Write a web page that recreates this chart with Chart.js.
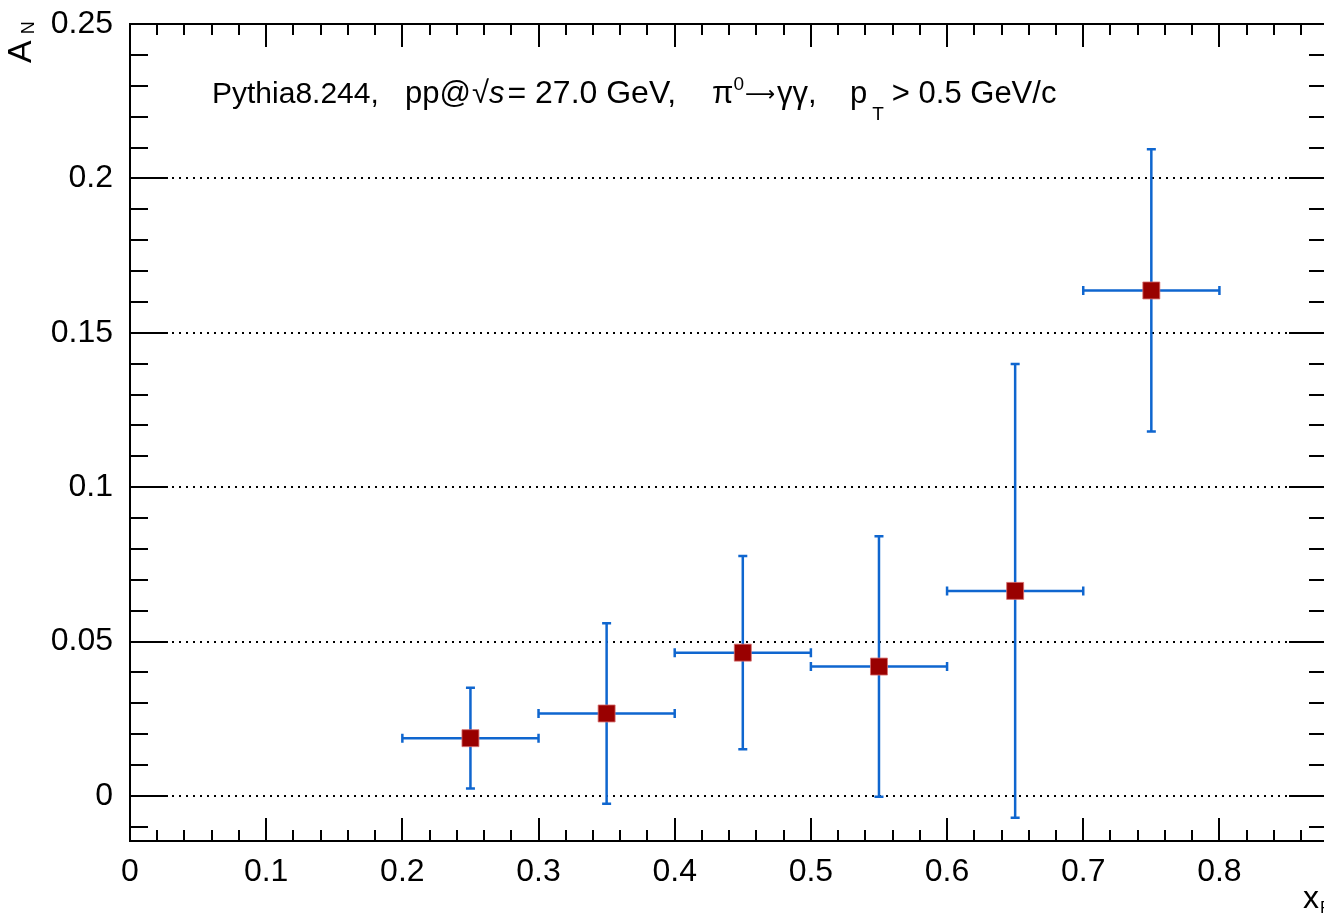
<!DOCTYPE html>
<html>
<head>
<meta charset="utf-8">
<script src="https://cdn.jsdelivr.net/npm/chart.js@4.4.0/dist/chart.umd.min.js"></script>
<style>
html, body { margin: 0; padding: 0; background: #fff; overflow: hidden; }
#wrap { width: 1340px; height: 917px; }
</style>
</head>
<body>
<div id="wrap"><canvas id="asymChart" width="1340" height="917"></canvas></div>
<script>
// x_F bins (centre and half width) and A_N with its error
const xfBins = [0.25, 0.35, 0.45, 0.55, 0.65, 0.75];
const xfHalfWidth = [0.05, 0.05, 0.05, 0.05, 0.05, 0.05];
const anValues = [0.0187, 0.0267, 0.0464, 0.0419, 0.0664, 0.1637];
const anErrors = [0.0163, 0.0292, 0.0313, 0.0422, 0.0735, 0.0457];

const xTicks = [0, 0.1, 0.2, 0.3, 0.4, 0.5, 0.6, 0.7, 0.8];
const xTickLabels = ['0', '0.1', '0.2', '0.3', '0.4', '0.5', '0.6', '0.7', '0.8'];
const yTicks = [0, 0.05, 0.1, 0.15, 0.2, 0.25];
const yTickLabels = ['0', '0.05', '0.1', '0.15', '0.2', '0.25'];

const FONT = '"Liberation Sans", Arial, Helvetica, sans-serif';

// dotted horizontal grid + blue error bars, under the markers
const errorBars = {
    id: 'errorBars',
    beforeDatasetsDraw(chart) {
        const ctx = chart.ctx;
        const xs = chart.scales.x, ys = chart.scales.y;
        const a = chart.chartArea;

        ctx.save();
        ctx.strokeStyle = '#000';
        ctx.lineWidth = 2;
        ctx.setLineDash([2, 5]);
        ctx.beginPath();
        yTicks.forEach(v => {
            const py = Math.round(ys.getPixelForValue(v));
            ctx.moveTo(a.left, py);
            ctx.lineTo(a.right, py);
        });
        ctx.stroke();
        ctx.restore();

        ctx.save();
        ctx.strokeStyle = '#0f66cf';
        ctx.lineWidth = 2.5;
        const cap = 4.5;
        xfBins.forEach((xv, i) => {
            const px = xs.getPixelForValue(xv);
            const py = ys.getPixelForValue(anValues[i]);
            const x1 = xs.getPixelForValue(xv - xfHalfWidth[i]);
            const x2 = xs.getPixelForValue(xv + xfHalfWidth[i]);
            const y1 = ys.getPixelForValue(anValues[i] + anErrors[i]);
            const y2 = ys.getPixelForValue(anValues[i] - anErrors[i]);
            ctx.beginPath();
            ctx.moveTo(x1, py); ctx.lineTo(x2, py);
            ctx.moveTo(px, y1); ctx.lineTo(px, y2);
            ctx.moveTo(x1, py - cap); ctx.lineTo(x1, py + cap);
            ctx.moveTo(x2, py - cap); ctx.lineTo(x2, py + cap);
            ctx.moveTo(px - cap, y1); ctx.lineTo(px + cap, y1);
            ctx.moveTo(px - cap, y2); ctx.lineTo(px + cap, y2);
            ctx.stroke();
        });
        ctx.restore();
    }
};

// ROOT style frame with inside ticks on all four sides
const rootFrame = {
    id: 'rootFrame',
    afterDatasetsDraw(chart) {
        const ctx = chart.ctx;
        const a = chart.chartArea;
        const xs = chart.scales.x, ys = chart.scales.y;
        ctx.save();
        ctx.strokeStyle = '#000';
        ctx.lineWidth = 2;
        ctx.beginPath();
        for (let k = -1; k <= 25; k++) {
            const py = Math.round(ys.getPixelForValue(k / 100));
            if (py < a.top - 1 || py > a.bottom + 1) continue;
            const len = k % 5 === 0 ? 38 : 18;
            ctx.moveTo(a.left, py); ctx.lineTo(a.left + len, py);
            ctx.moveTo(a.right, py); ctx.lineTo(a.right - len, py);
        }
        for (let k = 0; k <= 45; k++) {
            const px = Math.round(xs.getPixelForValue(k * 0.02));
            if (px > a.right + 1) continue;
            const len = k % 5 === 0 ? 23 : 11;
            ctx.moveTo(px, a.bottom); ctx.lineTo(px, a.bottom - len);
            ctx.moveTo(px, a.top); ctx.lineTo(px, a.top + len);
        }
        ctx.stroke();
        ctx.strokeRect(a.left, a.top, a.right - a.left, a.bottom - a.top);
        ctx.restore();
    }
};

// draws pieces one after the other starting at x
function drawRich(ctx, x, y, parts) {
    let cx = x;
    parts.forEach(p => {
        ctx.font = (p.style || '') + ' ' + p.size + 'px ' + (p.family || FONT);
        ctx.fillText(p.t, cx, y + (p.dy || 0));
        cx += ctx.measureText(p.t).width + (p.gap || 0);
    });
}

// annotation and axis titles
const labels = {
    id: 'labels',
    afterDraw(chart) {
        const ctx = chart.ctx;
        ctx.save();
        ctx.fillStyle = '#000';
        ctx.textAlign = 'left';
        ctx.textBaseline = 'alphabetic';

        const base = 103;
        drawRich(ctx, 212, base, [{ t: 'Pythia8.244,', size: 30 }]);
        drawRich(ctx, 405, base, [
            { t: 'pp@', size: 31, gap: 1 },
            { t: '\u221A', size: 31 },
            { t: 's', size: 31, style: 'italic', gap: 3 },
            { t: '= 27.0 GeV,', size: 32 }
        ]);
        drawRich(ctx, 712, base, [
            { t: '\u03C0', size: 31 },
            { t: '0', size: 19, dy: -13, gap: 1 },
            { t: '\u27F6', size: 21, family: '"DejaVu Sans", sans-serif', dy: -2, gap: 2 },
            { t: '\u03B3\u03B3,', size: 31 }
        ]);
        drawRich(ctx, 850, base, [
            { t: 'p', size: 31, gap: 5 },
            { t: 'T', size: 19, dy: 17, gap: 8 },
            { t: '> 0.5 GeV/c', size: 31 }
        ]);

        // y title: A_N rotated
        ctx.save();
        ctx.translate(31, 63);
        ctx.rotate(-Math.PI / 2);
        drawRich(ctx, 0, 0, [
            { t: 'A', size: 34, gap: 6 },
            { t: 'N', size: 18, dy: 3 }
        ]);
        ctx.restore();

        // x title: x_F
        drawRich(ctx, 1303, 908, [
            { t: 'x', size: 32, gap: 1 },
            { t: 'F', size: 17, dy: 5 }
        ]);
        ctx.restore();
    }
};

const ctx = document.getElementById('asymChart').getContext('2d');
new Chart(ctx, {
    type: 'scatter',
    data: {
        datasets: [{
            data: xfBins.map((x, i) => ({ x: x, y: anValues[i] })),
            pointStyle: 'rect',
            pointRadius: 12,
            pointHoverRadius: 12,
            backgroundColor: '#990000',
            borderColor: 'rgba(215,110,110,0.8)',
            borderWidth: 1
        }]
    },
    options: {
        responsive: false,
        animation: false,
        events: [],
        layout: { padding: { top: 24, right: 6, left: 0, bottom: 0 } },
        plugins: { legend: { display: false }, tooltip: { enabled: false } },
        scales: {
            x: {
                type: 'linear',
                min: 0,
                max: 0.879,
                afterBuildTicks: s => { s.ticks = xTicks.map(v => ({ value: v })); },
                afterFit: s => { s.height = 76; s.paddingLeft = 0; s.paddingRight = 0; },
                grid: { display: false, drawTicks: false },
                border: { display: false },
                ticks: {
                    padding: 12,
                    color: '#000',
                    maxRotation: 0,
                    autoSkip: false,
                    font: { family: FONT, size: 32 },
                    callback: v => xTickLabels[xTicks.indexOf(v)]
                }
            },
            y: {
                type: 'linear',
                min: -0.0146,
                max: 0.25,
                afterBuildTicks: s => { s.ticks = yTicks.map(v => ({ value: v })); },
                afterFit: s => { s.width = 130; s.paddingTop = 0; s.paddingBottom = 0; },
                grid: { display: false, drawTicks: false },
                border: { display: false },
                ticks: {
                    padding: 17,
                    color: '#000',
                    font: { family: FONT, size: 32 },
                    callback: v => yTickLabels[yTicks.indexOf(v)]
                }
            }
        }
    },
    plugins: [errorBars, rootFrame, labels]
});
</script>
</body>
</html>
